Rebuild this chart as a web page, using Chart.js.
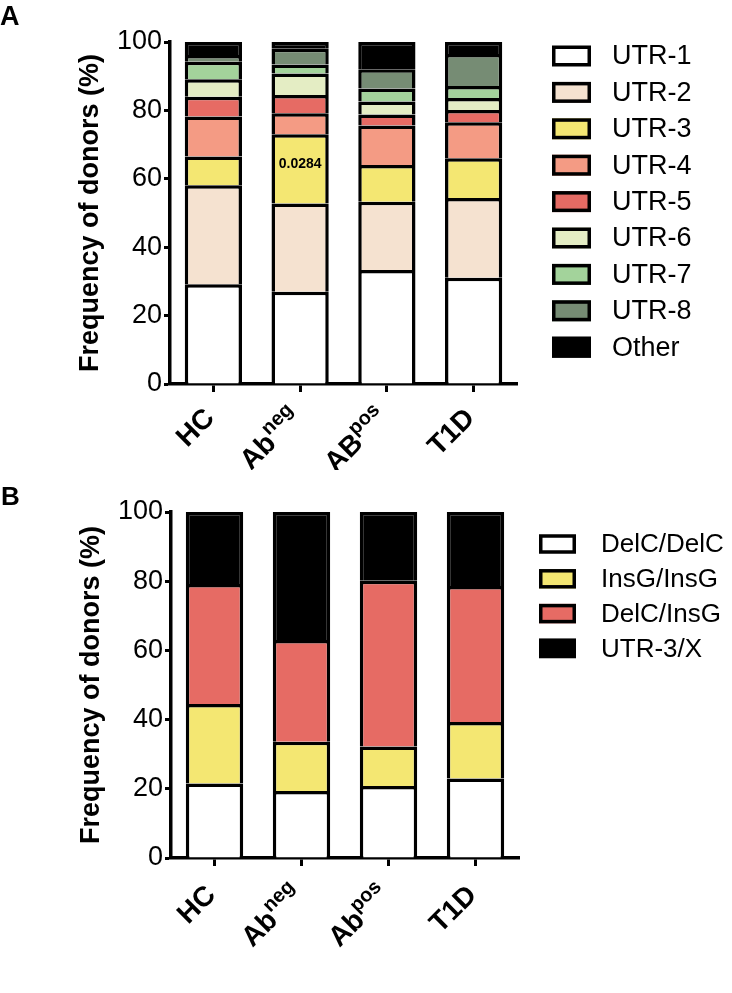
<!DOCTYPE html>
<html><head><meta charset="utf-8">
<script src="https://cdn.jsdelivr.net/npm/chart.js@4.4.1/dist/chart.umd.min.js"></script>
<style>
html,body{margin:0;padding:0;background:#fff;width:732px;height:993px;overflow:hidden}
#wa{position:absolute;left:0;top:0;width:732px;height:470px}
#wb{position:absolute;left:0;top:470px;width:732px;height:523px}
</style></head><body>
<div id="wa"><canvas id="ca" width="732" height="470"></canvas></div>
<div id="wb"><canvas id="cb" width="732" height="523"></canvas></div>
<script>
// ---------- data ----------
const categoriesA = ['HC', 'Ab^neg', 'AB^pos', 'T1D'];
const categoriesB = ['HC', 'Ab^neg', 'Ab^pos', 'T1D'];
const yTicks = [0, 20, 40, 60, 80, 100];
const yTitle = 'Frequency of donors (%)';

const seriesNamesA = ['UTR-1', 'UTR-2', 'UTR-3', 'UTR-4', 'UTR-5', 'UTR-6', 'UTR-7', 'UTR-8', 'Other'];
const utr1 = [29.2, 27.0, 33.3, 31.1];
const utr2 = [28.9, 25.8, 20.0, 23.3];
const utr3 = [8.4, 20.2, 10.7, 11.6];
const utr4 = [11.7, 6.2, 11.6, 10.5];
const utr5 = [5.8, 5.3, 3.2, 3.6];
const utr6 = [5.1, 6.3, 3.8, 3.5];
const utr7 = [5.1, 2.6, 3.8, 3.5];
const utr8 = [2.0, 4.6, 5.6, 9.4];
const otherA = [3.8, 2.0, 8.0, 3.5];
const annotationText = '0.0284';
const annotationSeries = 2;   // UTR-3
const annotationCategory = 1; // Ab^neg

const seriesNamesB = ['DelC/DelC', 'InsG/InsG', 'DelC/InsG', 'UTR-3/X'];
const delcDelc = [21.5, 19.4, 20.8, 23.0];
const insgInsg = [23.0, 14.2, 11.4, 16.3];
const delcInsg = [34.7, 29.4, 47.9, 39.3];
const utr3X = [20.8, 37.0, 19.9, 21.4];

// ---------- styles ----------
const FONT = "'Liberation Sans', Arial, Helvetica, sans-serif";
const colorsA = ['#ffffff', '#f5e2d0', '#f4e772', '#f49b84', '#e66b64', '#e4edc4', '#a3d39b', '#768c74', '#000000'];
const colorsB = ['#ffffff', '#f4e772', '#e66b64', '#000000'];

function makeDatasets(names, arrays, colors) {
  return names.map((n, i) => ({
    label: n,
    data: arrays[i],
    backgroundColor: colors[i],
    borderColor: '#000',
    borderWidth: 3.5,
    borderSkipped: 'start',
    barPercentage: 0.66,
    categoryPercentage: 1.0
  }));
}

const xLabelPlugin = {
  id: 'xlab',
  afterDraw(chart, args, o) {
    const ctx = chart.ctx, xs = chart.scales.x, ay = chart.chartArea.bottom;
    chart.data.labels.forEach((lab, i) => {
      const parts = lab.split('^');
      const main = parts[0], sup = parts[1] || '';
      const x = xs.getPixelForTick(i);
      ctx.save();
      ctx.translate(x + o.dx, ay + o.dy);
      ctx.rotate(-Math.PI / 4);
      ctx.fillStyle = '#000';
      ctx.textBaseline = 'middle';
      ctx.textAlign = 'left';
      ctx.font = `bold ${o.size}px ${FONT}`;
      const wm = ctx.measureText(main).width;
      let ws = 0;
      if (sup) { ctx.font = `bold ${o.supSize}px ${FONT}`; ws = ctx.measureText(sup).width; }
      ctx.font = `bold ${o.size}px ${FONT}`;
      ctx.fillText(main, -(wm + ws), 0);
      if (sup) { ctx.font = `bold ${o.supSize}px ${FONT}`; ctx.fillText(sup, -ws, -o.raise); }
      ctx.restore();
    });
  }
};

const legendPlugin = {
  id: 'customLegend',
  afterDraw(chart, args, o) {
    const ctx = chart.ctx;
    ctx.save();
    chart.data.datasets.forEach((ds, i) => {
      const cy = o.y0 + i * o.dy;
      const top = cy - o.bh / 2;
      ctx.fillStyle = ds.backgroundColor;
      ctx.fillRect(o.x, top, o.bw, o.bh);
      ctx.lineWidth = o.lw;
      ctx.strokeStyle = '#000';
      ctx.strokeRect(o.x + o.lw / 2, top + o.lw / 2, o.bw - o.lw, o.bh - o.lw);
      ctx.fillStyle = '#000';
      ctx.font = `${o.size}px ${FONT}`;
      ctx.textAlign = 'left';
      ctx.textBaseline = 'middle';
      ctx.fillText(ds.label, o.tx, cy + 1);
    });
    ctx.restore();
  }
};

const letterPlugin = {
  id: 'panelLetter',
  afterDraw(chart, args, o) {
    const ctx = chart.ctx;
    ctx.save();
    ctx.fillStyle = '#000';
    ctx.font = `bold ${o.size}px ${FONT}`;
    ctx.textAlign = 'left';
    ctx.textBaseline = 'alphabetic';
    ctx.fillText(o.text, o.x, o.y);
    ctx.restore();
  }
};

const annotPlugin = {
  id: 'annot',
  afterDatasetsDraw(chart, args, o) {
    if (!o.text) return;
    const el = chart.getDatasetMeta(o.series).data[o.category];
    const ctx = chart.ctx;
    ctx.save();
    ctx.fillStyle = '#000';
    ctx.font = `bold ${o.size}px ${FONT}`;
    ctx.textAlign = 'center';
    ctx.textBaseline = 'middle';
    ctx.fillText(o.text, el.x, (el.y + el.base) / 2 + o.dy);
    ctx.restore();
  }
};

function makeOptions(cfg) {
  return {
    responsive: false,
    animation: false,
    devicePixelRatio: 1,
    layout: { padding: { left: cfg.padLeft, right: cfg.padRight, top: cfg.padTop, bottom: 0 } },
    plugins: {
      legend: { display: false },
      tooltip: { enabled: false },
      xlab: { dx: -3, dy: cfg.labelDy, size: 28, supSize: 20, raise: 10 },
      customLegend: cfg.legend,
      panelLetter: cfg.letter,
      annot: cfg.annot || {}
    },
    scales: {
      x: {
        stacked: true,
        border: { display: true, color: '#000', width: 3.5 },
        grid: { display: true, offset: false, drawOnChartArea: false, drawTicks: true, tickLength: 8, tickWidth: 3, tickColor: '#000' },
        ticks: { display: false },
        afterFit(s) { s.height = cfg.xHeight; }
      },
      y: {
        stacked: true,
        min: 0, max: 100,
        border: { display: true, color: '#000', width: 3.5 },
        grid: { display: true, drawOnChartArea: false, drawTicks: true, tickLength: 6, tickWidth: 3, tickColor: '#000' },
        ticks: { color: '#000', padding: 2, font: { family: FONT, size: 27 } },
        afterBuildTicks(s) { s.ticks = yTicks.map(v => ({ value: v })); },
        title: { display: true, text: yTitle, color: '#000', padding: { top: 0, bottom: 0 }, font: { family: FONT, size: 27, weight: 'bold', lineHeight: 1.2 } },
        afterFit(s) { s.width = cfg.yWidth; }
      }
    }
  };
}

new Chart(document.getElementById('ca'), {
  type: 'bar',
  data: {
    labels: categoriesA,
    datasets: makeDatasets(seriesNamesA, [utr1, utr2, utr3, utr4, utr5, utr6, utr7, utr8, otherA], colorsA)
  },
  options: makeOptions({
    padLeft: 74, yWidth: 96, padRight: 215, padTop: 42, xHeight: 86, labelDy: 30,
    legend: { x: 552, bw: 39, bh: 21, lw: 3.5, y0: 56, dy: 36.4, tx: 612, size: 27 },
    letter: { text: 'A', x: 0, y: 25, size: 27 },
    annot: { text: annotationText, series: annotationSeries, category: annotationCategory, size: 14, dy: -5 }
  }),
  plugins: [xLabelPlugin, legendPlugin, letterPlugin, annotPlugin]
});

new Chart(document.getElementById('cb'), {
  type: 'bar',
  data: {
    labels: categoriesB,
    datasets: makeDatasets(seriesNamesB, [delcDelc, insgInsg, delcInsg, utr3X], colorsB)
  },
  options: makeOptions({
    padLeft: 75, yWidth: 96, padRight: 213, padTop: 42, xHeight: 135, labelDy: 33,
    legend: { x: 539, bw: 37, bh: 19.5, lw: 3.5, y0: 74, dy: 34.8, tx: 601, size: 26 },
    letter: { text: 'B', x: 1, y: 35, size: 26 }
  }),
  plugins: [xLabelPlugin, legendPlugin, letterPlugin, annotPlugin]
});
</script>
</body></html>
